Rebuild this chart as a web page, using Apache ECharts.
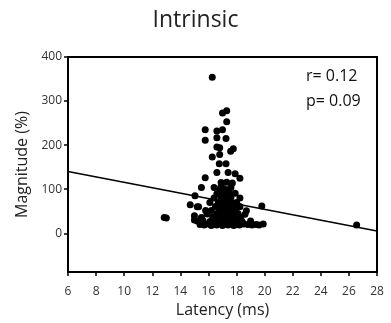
<!DOCTYPE html>
<html>
<head>
<meta charset="utf-8">
<script src="https://cdn.jsdelivr.net/npm/echarts@6/dist/echarts.min.js"></script>
<style>html,body{margin:0;padding:0;background:#fff}#c{width:391px;height:323px}</style>
</head>
<body>
<div id="c"></div>
<script>
// Latency (ms) and Magnitude (%) of each point
const latency = [
  16.27,17.0,17.3,17.3,15.77,16.6,17.0,15.77,16.6,17.25,16.6,16.8,17.77,17.58,16.27,16.8,16.77,17.25,
  15.77,18.24,16.6,17.4,17.9,15.5,16.4,16.9,17.6,15.04,14.7,15.2,15.8,18.24,18.24,19.8,18.7,12.85,13.0,15.0,15.0,26.55,
  15.4,15.7,16.0,16.2,16.4,16.6,16.8,17.0,17.2,17.4,17.6,17.8,18.0,18.2,18.5,18.8,19.1,19.4,19.6,19.9,
  15.2,15.6,16.1,16.5,16.9,17.1,17.3,17.5,17.7,17.9,18.1,18.4,19.0,
  15.5,16.3,16.7,17.0,17.2,17.4,17.6,17.8,18.0,18.3,
  15.9,16.6,16.9,17.1,17.3,17.5,17.7,18.1,18.6,
  16.2,16.8,17.0,17.2,17.4,17.6,17.9,
  15.3,16.5,16.9,17.1,17.3,17.5,17.8,18.2,
  16.1,16.7,17.0,17.2,17.4,17.7,18.0,
  16.4,16.9,17.1,17.3,17.6,
  16.6,17.0,17.2,17.5,17.9,
  16.8,17.1,17.4,
  16.9,17.3,17.7
];
const magnitude = [
  354,273,278,253,235,232,235,211,217,215,196,194,192,186,173,179,158,158,
  126,125,138,138,135,104,104,106,104,85,65,60,52,80,60,62,51,36,35,40,30,19,
  20,19,21,18,20,19,22,18,20,19,21,18,20,19,21,20,19,20,19,21,
  28,29,27,28,29,27,28,29,27,28,29,27,28,
  36,37,35,36,37,35,36,37,35,36,
  44,45,43,44,45,43,44,45,43,
  52,53,51,52,53,51,52,
  60,61,59,60,61,59,60,61,
  70,71,69,70,71,69,70,
  80,81,79,80,81,
  90,91,89,90,91,
  100,101,99,
  115,116,114
];
// Regression line end points
const fitX = [6, 28];
const fitY = [140, 5];
const yTicks = [0,100,200,300,400];
const stats = ['r= 0.12', 'p= 0.09'];

const pts = latency.map((x, i) => [x, magnitude[i]]);
const fit = fitX.map((x, i) => [x, fitY[i]]);
const F = 'Open Sans';

const chart = echarts.init(document.getElementById('c'), null, {renderer: 'canvas'});
chart.setOption({
  animation: false,
  backgroundColor: '#fff',
  title: {
    text: 'Intrinsic', left: 'center', top: 4,
    textStyle: {fontFamily: F, fontSize: 23, fontWeight: 'normal', color: '#222'}
  },
  grid: {left: 68, right: 14, top: 57, bottom: 50, show: true, borderColor: '#000', borderWidth: 2},
  xAxis: {
    type: 'value', min: 6, max: 28, interval: 2,
    name: 'Latency (ms)', nameLocation: 'middle', nameGap: 27,
    nameTextStyle: {fontFamily: F, fontSize: 16, color: '#222'},
    axisLine: {show: true, onZero: false, lineStyle: {color: '#000', width: 2}},
    axisTick: {show: true, length: 4, lineStyle: {color: '#000', width: 1.5}},
    axisLabel: {fontFamily: F, fontSize: 12, color: '#333', margin: 13},
    splitLine: {show: false}
  },
  yAxis: {
    type: 'value', min: -88, max: 400,
    name: 'Magnitude (%)', nameLocation: 'middle', nameGap: 30,
    nameTextStyle: {fontFamily: F, fontSize: 16, color: '#222'},
    axisLine: {show: true, onZero: false, lineStyle: {color: '#000', width: 2}},
    axisTick: {show: true, length: 4, customValues: yTicks, lineStyle: {color: '#000', width: 1.5}},
    axisLabel: {fontFamily: F, fontSize: 12, color: '#333', margin: 6, customValues: yTicks},
    splitLine: {show: false}
  },
  graphic: [
    {type: 'text', left: 306, top: 68, style: {text: stats[0], font: '16px "Open Sans"', fill: '#111'}},
    {type: 'text', left: 306, top: 93, style: {text: stats[1], font: '16px "Open Sans"', fill: '#111'}}
  ],
  series: [
    {type: 'line', data: fit, symbol: 'none', lineStyle: {color: '#000', width: 1.5}, z: 1},
    {type: 'scatter', data: pts, symbolSize: 7, itemStyle: {color: '#000', opacity: 1}, z: 2}
  ]
});
</script>
</body>
</html>
